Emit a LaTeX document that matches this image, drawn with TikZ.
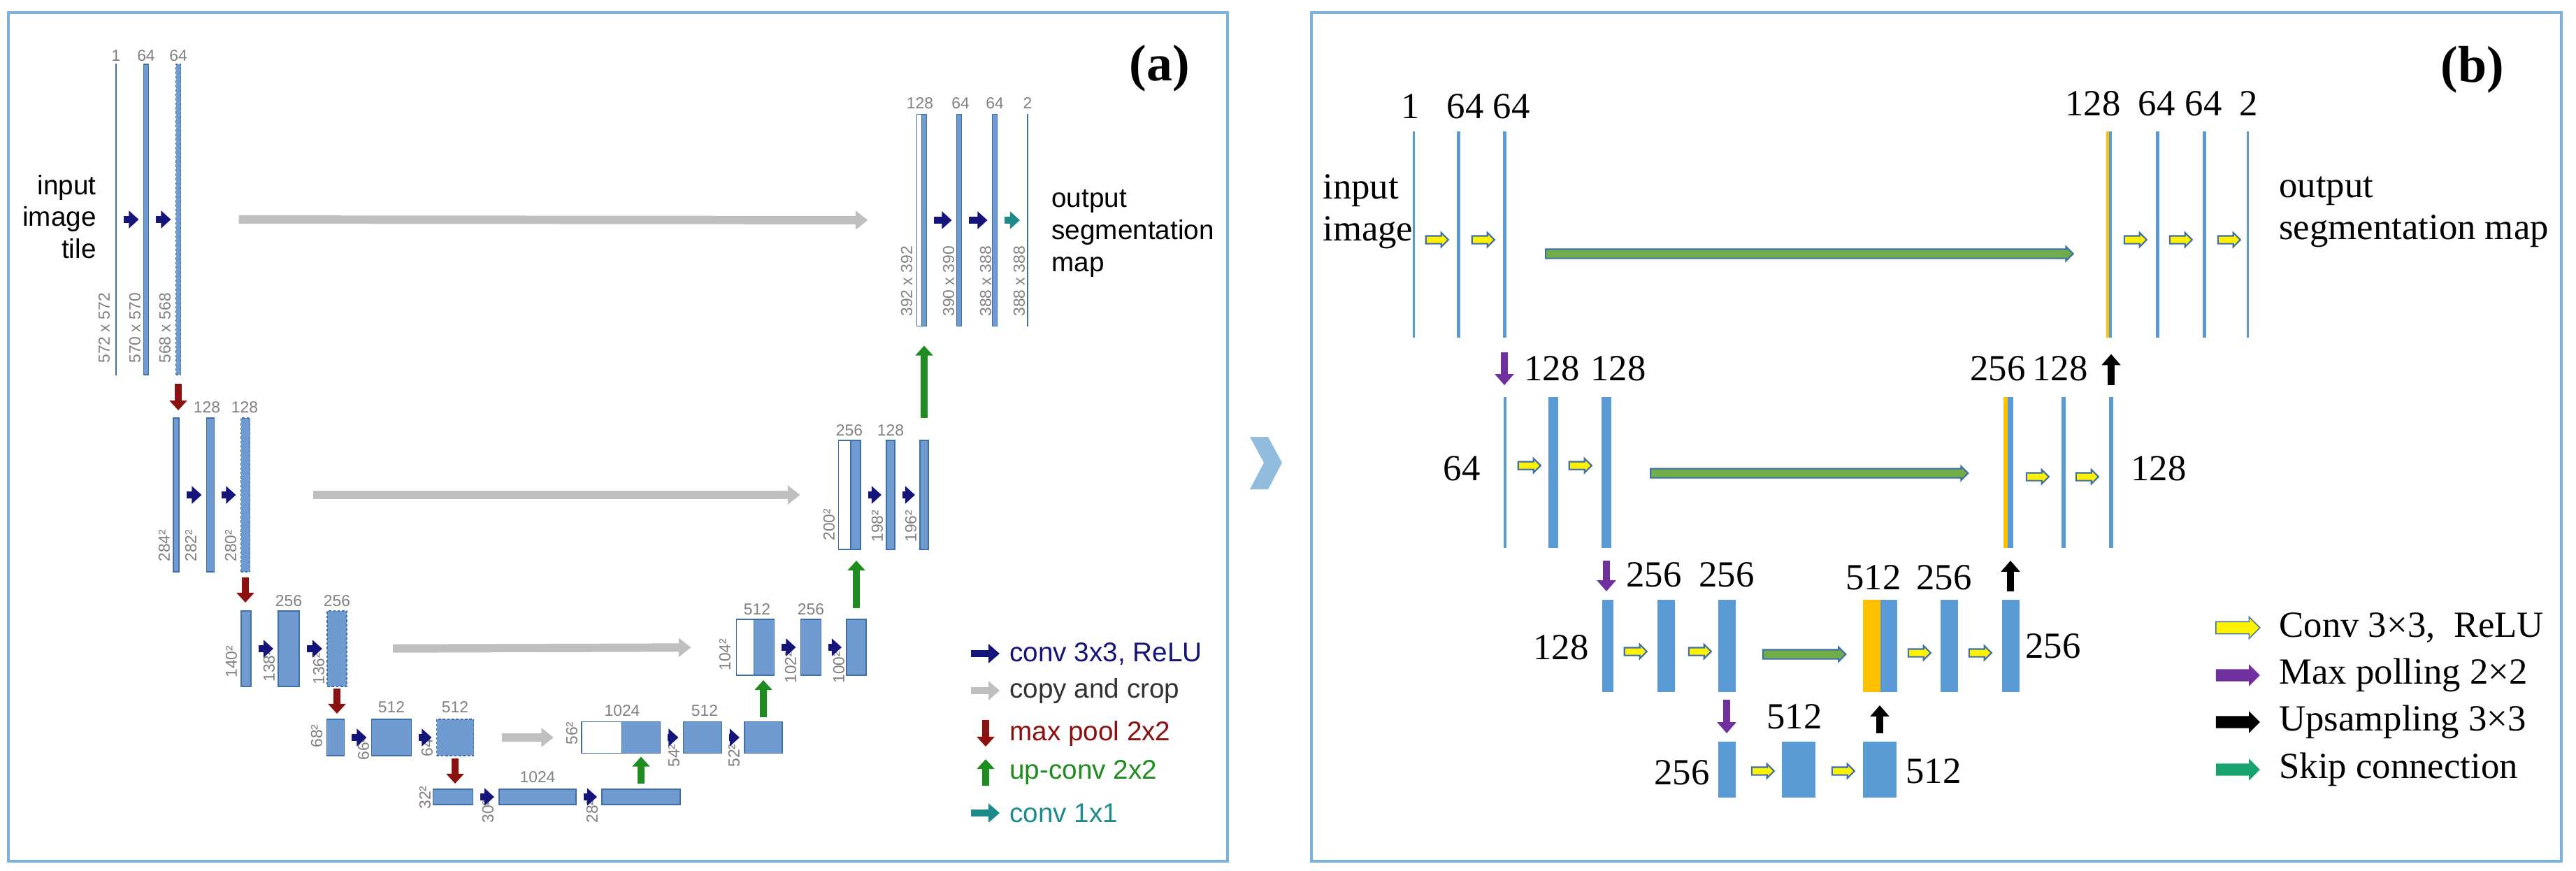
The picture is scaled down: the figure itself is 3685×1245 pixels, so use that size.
\documentclass[tikz,border=0pt]{standalone}
\usepackage{fontspec}
\setmainfont{Liberation Serif}
\newfontfamily\sansf{Liberation Sans}
\usetikzlibrary{arrows.meta,shapes.arrows}
\definecolor{frm}{HTML}{7FB0D8}
\definecolor{ba}{HTML}{6F9BD1}
\definecolor{bad}{HTML}{3F6FA8}
\definecolor{bb}{HTML}{5B9BD5}
\definecolor{orng}{HTML}{FFC000}
\definecolor{navy}{HTML}{14147A}
\definecolor{dred}{HTML}{8B1010}
\definecolor{dgreen}{HTML}{1E8C1E}
\definecolor{teal2}{HTML}{1F8A8A}
\definecolor{skipg}{HTML}{70AD47}
\definecolor{purp}{HTML}{7030A0}
\newcommand{\ubx}[6]{\node[#6, minimum width=#4*0.01cm, minimum height=#5*0.01cm] (#1) at (#2,#3) {};}
\tikzset{
 abar/.style={draw=bad, fill=ba, line width=0.5pt, inner sep=0, outer sep=0},
 adash/.style={abar, dash pattern=on 1pt off 0.8pt},
 awhite/.style={draw=bad, fill=white, line width=0.5pt, inner sep=0, outer sep=0},
 aline/.style={draw=bad, fill=bad, line width=0.3pt, inner sep=0, outer sep=0},
 bbar/.style={fill=bb, inner sep=0, outer sep=0},
 bor/.style={fill=orng, inner sep=0, outer sep=0},
 num/.style={font=\sansf\fontsize{6.5}{7}\selectfont, text=gray},
 sz/.style={font=\sansf\fontsize{6.5}{7}\selectfont, text=gray, rotate=90, anchor=west},
 atxt/.style={font=\sansf\fontsize{11}{13}\selectfont, align=left},
 conv/.style={navy, line width=3pt, -{Triangle[length=4pt,width=7pt]}, shorten <=3pt, shorten >=2pt},
 copyc/.style={gray!50, line width=3.4pt, -{Triangle[length=5pt,width=7.5pt]}},
 pool/.style={dred, line width=2.6pt, -{Triangle[length=4pt,width=7pt]}},
 upc/.style={dgreen, line width=2.6pt, -{Triangle[length=4pt,width=7pt]}},
 c11/.style={teal2, line width=3pt, -{Triangle[length=4pt,width=7pt]}, shorten <=3pt, shorten >=3pt},
 bnum/.style={font=\fontsize{15}{17}\selectfont},
 btxt/.style={font=\fontsize{15}{17}\selectfont, align=left, anchor=west},
 yarr/.style={single arrow, draw=bad, fill=yellow, line width=0.6pt, minimum height=0.32cm, inner xsep=0, inner ysep=0.045cm, single arrow head extend=0.045cm, single arrow head indent=0pt},
 skp/.style={single arrow, draw=bad, fill=skipg, line width=0.6pt, inner xsep=0, inner ysep=0.055cm, single arrow head extend=0.035cm},
 mp/.style={purp, line width=2.8pt, -{Triangle[length=4.5pt,width=7.5pt]}},
 ups/.style={black, line width=2.8pt, -{Triangle[length=4.5pt,width=7.5pt]}},
 larr/.style={single arrow, minimum height=0.63cm, inner xsep=0, inner ysep=0.08cm, single arrow head extend=0.07cm},
}
\begin{document}
\begin{tikzpicture}[x=0.01cm,y=-0.01cm]
\useasboundingbox (0,0) rectangle (3685,1245);
% frames
\draw[frm, line width=1.2pt] (12,18) rectangle (1756,1232);
\draw[frm, line width=1.2pt] (1876,18) rectangle (3664,1232);
\fill[frm!85] (1788,625) -- (1814,625) -- (1834,662) -- (1814,700) -- (1788,700) -- (1808,662) -- cycle;
\node[font=\fontsize{21}{24}\selectfont\bfseries] (la) at (1659,98) {(a)};
\node[font=\fontsize{21}{24}\selectfont\bfseries] (lb) at (3537,100) {(b)};

% ===== panel a =====
\ubx{A1}{166}{314}{1.5}{444}{aline}
\ubx{A2}{209}{314}{7}{444}{abar}
\ubx{A3}{255}{314}{7}{444}{adash}
\ubx{B1}{252}{708}{8}{220}{abar}
\ubx{B2}{301}{708}{11}{220}{abar}
\ubx{B3}{351}{708}{13}{220}{adash}
\ubx{C1}{352}{928}{14}{108}{abar}
\ubx{C2}{413}{928}{30}{108}{abar}
\ubx{C3}{482}{928}{28}{108}{adash}
\ubx{D1}{480}{1055}{25}{52}{abar}
\ubx{D2}{560}{1055}{57}{52}{abar}
\ubx{D3}{651}{1055}{53}{52}{adash}
\ubx{E1}{648}{1140}{57}{22}{abar}
\ubx{E2}{769}{1140}{110}{22}{abar}
\ubx{E3}{917}{1140}{112}{22}{abar}
\ubx{D4w}{861}{1055}{58}{45}{awhite}
\ubx{D4}{917}{1055}{55}{45}{abar}
\ubx{D5}{1005}{1055}{55}{45}{abar}
\ubx{D6}{1092}{1055}{54}{45}{abar}
\ubx{C4w}{1066}{926}{25}{80}{awhite}
\ubx{C4}{1093}{926}{29}{80}{abar}
\ubx{C5}{1160}{926}{29}{80}{abar}
\ubx{C6}{1225}{926}{28}{80}{abar}
\ubx{B4w}{1208}{708}{17}{156}{awhite}
\ubx{B4}{1224}{708}{14}{156}{abar}
\ubx{B5}{1274}{708}{12}{156}{abar}
\ubx{B6}{1322}{708}{12}{156}{abar}
\ubx{A4w}{1315}{315}{7}{303}{awhite}
\ubx{A4}{1322}{315}{7}{303}{abar}
\ubx{A5}{1372}{315}{7}{303}{abar}
\ubx{A6}{1423}{315}{7}{303}{abar}
\ubx{A7}{1470}{315}{1}{303}{aline}

% numbers a
\node[num] (n1) at (166,80) {1};
\node[num] (n2) at (209,80) {64};
\node[num] (n3) at (255,80) {64};
\node[num] (n4) at (296,583) {128};
\node[num] (n5) at (350,583) {128};
\node[num] (n6) at (413,860) {256};
\node[num] (n7) at (482,860) {256};
\node[num] (n8) at (560,1012) {512};
\node[num] (n9) at (651,1012) {512};
\node[num] (n10) at (769,1112) {1024};
\node[num] (n11) at (890,1017) {1024};
\node[num] (n12) at (1008,1017) {512};
\node[num] (n13) at (1083,872) {512};
\node[num] (n14) at (1160,872) {256};
\node[num] (n15) at (1215,616) {256};
\node[num] (n16) at (1274,616) {128};
\node[num] (n17) at (1316,148) {128};
\node[num] (n18) at (1374,148) {64};
\node[num] (n19) at (1423,148) {64};
\node[num] (n20) at (1470,148) {2};
% size labels
\node[sz] (s1) at (149,532) {572 x 572};
\node[sz] (s2) at (193,532) {570 x 570};
\node[sz] (s3) at (236,532) {568 x 568};
\node[sz] (s4) at (235,816) {284²};
\node[sz] (s5) at (273,816) {282²};
\node[sz] (s6) at (330,816) {280²};
\node[sz] (s7) at (331,982) {140²};
\node[sz] (s8) at (385,988) {138²};
\node[sz] (s9) at (456,992) {136²};
\node[sz] (s10) at (453,1082) {68²};
\node[sz] (s11) at (520,1100) {66²};
\node[sz] (s12) at (611,1095) {64²};
\node[sz] (s13) at (608,1170) {32²};
\node[sz] (s14) at (698,1190) {30²};
\node[sz] (s15) at (847,1190) {28²};
\node[sz] (s16) at (818,1078) {56²};
\node[sz] (s17) at (964,1110) {54²};
\node[sz] (s18) at (1050,1110) {52²};
\node[sz] (s19) at (1037,972) {104²};
\node[sz] (s20) at (1131,990) {102²};
\node[sz] (s21) at (1200,990) {100²};
\node[sz] (s22) at (1186,786) {200²};
\node[sz] (s23) at (1255,788) {198²};
\node[sz] (s24) at (1303,788) {196²};
\node[sz] (s25) at (1297,465) {392 x 392};
\node[sz] (s26) at (1357,465) {390 x 390};
\node[sz] (s27) at (1410,465) {388 x 388};
\node[sz] (s28) at (1458,465) {388 x 388};

\node[atxt, align=right, anchor=east] (inp) at (150,310) {input\\image\\tile};
\node[atxt, anchor=west] (outp) at (1492,334) {output\\segmentation\\map};

% conv arrows a
\draw[conv] (A1) -- (A2);
\draw[conv] (A2) -- (A3);
\draw[conv] (B1) -- (B2);
\draw[conv] (B2) -- (B3);
\draw[conv] (C1) -- (C2);
\draw[conv] (C2) -- (C3);
\draw[conv] (D1) -- (D2);
\draw[conv] (D2) -- (D3);
\draw[conv] (E1) -- (E2);
\draw[conv] (E2) -- (E3);
\draw[conv] (D4) -- (D5);
\draw[conv] (D5) -- (D6);
\draw[conv] (C4) -- (C5);
\draw[conv] (C5) -- (C6);
\draw[conv] (B4) -- (B5);
\draw[conv] (B5) -- (B6);
\draw[conv] (A4) -- (A5);
\draw[conv] (A5) -- (A6);
\draw[c11] (A6) -- (A7);
% copy arrows
\draw[copyc, shorten <=0.83cm, shorten >=0.7cm] (A3) -- (A4w);
\draw[copyc, shorten <=0.9cm, shorten >=0.55cm] (B3) -- (B4w);
\draw[copyc, shorten <=0.66cm, shorten >=0.65cm] (C3) -- (C4w);
\draw[copyc, shorten <=0.4cm, shorten >=0.4cm] (D3) -- (D4w);
% pool
\draw[pool, shorten <=0.13cm, shorten >=0.11cm] (A3.south) -- (A3.south |- B1.north);
\draw[pool, shorten <=0.08cm, shorten >=0.12cm] (B3.south) -- (B3.south |- C1.north);
\draw[pool, shorten <=0.03cm, shorten >=0.08cm] (C3.south) -- (C3.south |- D1.north);
\draw[pool, shorten <=0.04cm, shorten >=0.08cm] (D3.south) -- (D3.south |- E1.north);
% up-conv
\draw[upc, shorten <=0.08cm, shorten >=0.05cm] (E3.north) -- (E3.north |- D4.south);
\draw[upc, shorten <=0.07cm, shorten >=0.07cm] (D6.north) -- (D6.north |- C4.south);
\draw[upc, shorten <=0.16cm, shorten >=0.16cm] (C6.north) -- (C6.north |- B4.south);
\draw[upc, shorten <=0.32cm, shorten >=0.28cm] (B6.north) -- (B6.north |- A4.south);

% legend a
\coordinate (la1) at (1389,935); \coordinate (la1e) at (1430,935);
\coordinate (la2) at (1389,988); \coordinate (la2e) at (1430,988);
\coordinate (la3) at (1410,1030); \coordinate (la3e) at (1410,1068);
\coordinate (la4) at (1410,1124); \coordinate (la4e) at (1410,1086);
\coordinate (la5) at (1389,1163); \coordinate (la5e) at (1430,1163);
\draw[navy, line width=3pt, -{Triangle[length=4.5pt,width=7.5pt]}] (la1) -- (la1e);
\draw[gray!50, line width=3pt, -{Triangle[length=4.5pt,width=7.5pt]}] (la2) -- (la2e);
\draw[pool] (la3) -- (la3e);
\draw[upc] (la4) -- (la4e);
\draw[teal2, line width=3pt, -{Triangle[length=4.5pt,width=7.5pt]}] (la5) -- (la5e);
\node[atxt, anchor=west, text=navy] (lt1) at (1432,935) {conv 3x3, ReLU};
\node[atxt, anchor=west, text=black!80] (lt2) at (1432,988) {copy and crop};
\node[atxt, anchor=west, text=dred] (lt3) at (1432,1049) {max pool 2x2};
\node[atxt, anchor=west, text=dgreen] (lt4) at (1432,1105) {up-conv 2x2};
\node[atxt, anchor=west, text=teal2] (lt5) at (1432,1163) {conv 1x1};

% ===== panel b =====
\ubx{P1}{2022}{335}{3}{295}{bbar}
\ubx{P2}{2086}{335}{5}{295}{bbar}
\ubx{P3}{2152}{335}{5}{295}{bbar}
\ubx{P4o}{3015}{335}{4}{295}{bor}
\ubx{P4}{3019}{335}{4}{295}{bbar}
\ubx{P5}{3086}{335}{5}{295}{bbar}
\ubx{P6}{3153}{335}{5}{295}{bbar}
\ubx{P7}{3215}{335}{3}{295}{bbar}
\ubx{Q1}{2153}{676}{4}{216}{bbar}
\ubx{Q2}{2222}{676}{14}{216}{bbar}
\ubx{Q3}{2298}{676}{14}{216}{bbar}
\ubx{Q4o}{2869}{676}{6}{216}{bor}
\ubx{Q4}{2876}{676}{8}{216}{bbar}
\ubx{Q5}{2952}{676}{6}{216}{bbar}
\ubx{Q6}{3020}{676}{6}{216}{bbar}
\ubx{R1}{2300}{924}{16}{132}{bbar}
\ubx{R2}{2383}{924}{25}{132}{bbar}
\ubx{R3}{2470}{924}{25}{132}{bbar}
\ubx{R4o}{2677}{924}{25}{132}{bor}
\ubx{R4}{2702}{924}{24}{132}{bbar}
\ubx{R5}{2788}{924}{25}{132}{bbar}
\ubx{R6}{2876}{924}{25}{132}{bbar}
\ubx{S1}{2470}{1101}{25}{80}{bbar}
\ubx{S2}{2573}{1101}{48}{80}{bbar}
\ubx{S3}{2689}{1101}{48}{80}{bbar}

% numbers b
\node[bnum] (m1) at (2018,152) {1};
\node[bnum] (m2) at (2096,152) {64};
\node[bnum] (m3) at (2162,152) {64};
\node[bnum] (m4) at (2994,148) {128};
\node[bnum] (m5) at (3085,148) {64};
\node[bnum] (m6) at (3152,148) {64};
\node[bnum] (m7) at (3217,148) {2};
\node[bnum] (m8) at (2220,527) {128};
\node[bnum] (m9) at (2315,527) {128};
\node[bnum] (m10) at (2858,527) {256};
\node[bnum] (m11) at (2947,527) {128};
\node[bnum] (m12) at (2091,670) {64};
\node[bnum] (m13) at (3088,670) {128};
\node[bnum] (m14) at (2366,822) {256};
\node[bnum] (m15) at (2470,822) {256};
\node[bnum] (m16) at (2680,826) {512};
\node[bnum] (m17) at (2781,826) {256};
\node[bnum] (m18) at (2233,926) {128};
\node[bnum] (m19) at (2937,924) {256};
\node[bnum] (m20) at (2567,1025) {512};
\node[bnum] (m21) at (2406,1105) {256};
\node[bnum] (m22) at (2766,1103) {512};
\node[btxt] (binp) at (1880,303) {input\\image};
\node[btxt] (bout) at (3248,303) {output\\segmentation map};

% yellow conv arrows b
\foreach \x/\y [count=\i] in {2053/343,2119/343,3052/343,3117/343,3186/343,2185/666,2258/666,2912/682,2983/682,2337/932,2429/932,2743/934,2830/934,2519/1103,2634/1103}
  \node[yarr] (yc\i) at (\x,\y) {};
% skip arrows
\node[skp, minimum height=7.54cm] (sk1) at (2585,363) {};
\node[skp, minimum height=4.54cm] (sk2) at (2585,677) {};
\node[skp, minimum height=1.18cm] (sk3) at (2578,936) {};
% max pool / upsampling
\draw[mp, shorten <=0.21cm, shorten >=0.17cm] (P3.south) -- (P3.south |- Q1.north);
\draw[mp, shorten <=0.18cm, shorten >=0.12cm] (Q3.south) -- (Q3.south |- R1.north);
\draw[mp, shorten <=0.11cm, shorten >=0.12cm] (R3.south) -- (R3.south |- S1.north);
\draw[ups, shorten <=0.12cm, shorten >=0.19cm] (S3.north) -- (S3.north |- R4.south);
\draw[ups, shorten <=0.12cm, shorten >=0.18cm] (R6.north) -- (R6.north |- Q4.south);
\draw[ups, shorten <=0.17cm, shorten >=0.24cm] (Q6.north) -- (Q6.north |- P4.south);

% legend b
\node[larr, fill=yellow, draw=bad] (lb1) at (3197,898) {};
\node[larr, fill=purp] (lb2) at (3197,966) {};
\node[larr, fill=black] (lb3) at (3197,1033) {};
\node[larr, fill=teal2!80!green] (lb4) at (3197,1101) {};
\node[btxt] (lbt1) at (3248,898) {Conv 3×3,\ \ ReLU};
\node[btxt] (lbt2) at (3248,966) {Max polling 2×2};
\node[btxt] (lbt3) at (3248,1033) {Upsampling 3×3};
\node[btxt] (lbt4) at (3248,1101) {Skip connection};
\end{tikzpicture}
\end{document}
